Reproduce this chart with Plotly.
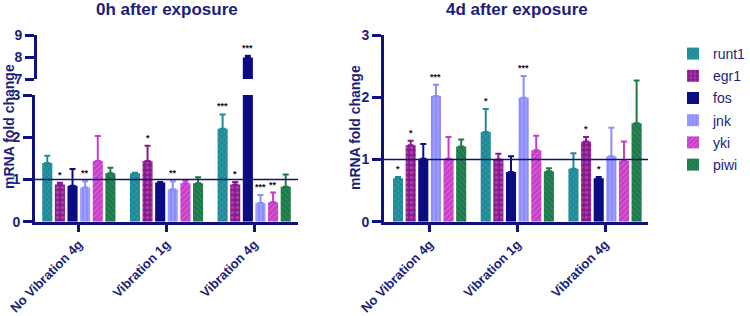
import plotly.graph_objects as go

groups = ["No Vibration 4g", "Vibration 1g", "Vibration 4g"]
genes = ["runt1", "egr1", "fos", "jnk", "yki", "piwi"]

# 0h after exposure (mean, error)
h0_runt1 = [1.39, 1.15, 2.20]
h0_runt1_err = [0.17, 0.01, 0.34]
h0_egr1 = [0.88, 1.44, 0.88]
h0_egr1_err = [0.04, 0.36, 0.06]
h0_fos = [0.85, 0.93, 7.98]
h0_fos_err = [0.40, 0.01, 0.08]
h0_jnk = [0.81, 0.77, 0.44]
h0_jnk_err = [0.15, 0.19, 0.19]
h0_yki = [1.44, 0.91, 0.46]
h0_yki_err = [0.59, 0.06, 0.23]
h0_piwi = [1.15, 0.91, 0.83]
h0_piwi_err = [0.13, 0.14, 0.29]
h0_sig_runt1 = ["", "", "***"]
h0_sig_egr1 = ["*", "*", "*"]
h0_sig_fos = ["", "", "***"]
h0_sig_jnk = ["**", "**", "***"]
h0_sig_yki = ["", "", "**"]
h0_sig_piwi = ["", "", ""]

# 4d after exposure (mean, error)
d4_runt1 = [0.70, 1.44, 0.85]
d4_runt1_err = [0.02, 0.37, 0.25]
d4_egr1 = [1.23, 1.00, 1.29]
d4_egr1_err = [0.07, 0.09, 0.07]
d4_fos = [1.01, 0.80, 0.70]
d4_fos_err = [0.24, 0.25, 0.02]
d4_jnk = [2.02, 1.99, 1.05]
d4_jnk_err = [0.18, 0.35, 0.46]
d4_yki = [1.01, 1.15, 0.98]
d4_yki_err = [0.35, 0.23, 0.31]
d4_piwi = [1.21, 0.81, 1.58]
d4_piwi_err = [0.11, 0.05, 0.69]
d4_sig_runt1 = ["*", "*", ""]
d4_sig_egr1 = ["*", "", "*"]
d4_sig_fos = ["", "", "*"]
d4_sig_jnk = ["***", "***", ""]
d4_sig_yki = ["", "", ""]
d4_sig_piwi = ["", "", ""]

NAVY = "#1b1f7a"
AXIS = "#10107e"
FONT = "Liberation Sans"

W, H = 750, 316


def px(x):
    return x / W


def py(y):
    return 1 - y / H


styles = {
    "runt1": dict(color="#1f8a97", shape="x", fg="#4fb3bd", size=4, solidity=0.3),
    "egr1": dict(color="#8a1a8c", shape=".", fg="#c060c4", size=5, solidity=0.4),
    "fos": dict(color="#0c0c82", shape="", fg="#0c0c82", size=4, solidity=0.2),
    "jnk": dict(color="#8c8cff", shape="|", fg="#b8b8ff", size=4, solidity=0.4),
    "yki": dict(color="#c83ac8", shape="/", fg="#e48ae4", size=4, solidity=0.35),
    "piwi": dict(color="#1c7848", shape="\\", fg="#3e9c6a", size=4, solidity=0.35),
}

h0 = {"runt1": (h0_runt1, h0_runt1_err, h0_sig_runt1), "egr1": (h0_egr1, h0_egr1_err, h0_sig_egr1),
      "fos": (h0_fos, h0_fos_err, h0_sig_fos), "jnk": (h0_jnk, h0_jnk_err, h0_sig_jnk),
      "yki": (h0_yki, h0_yki_err, h0_sig_yki), "piwi": (h0_piwi, h0_piwi_err, h0_sig_piwi)}
d4 = {"runt1": (d4_runt1, d4_runt1_err, d4_sig_runt1), "egr1": (d4_egr1, d4_egr1_err, d4_sig_egr1),
      "fos": (d4_fos, d4_fos_err, d4_sig_fos), "jnk": (d4_jnk, d4_jnk_err, d4_sig_jnk),
      "yki": (d4_yki, d4_yki_err, d4_sig_yki), "piwi": (d4_piwi, d4_piwi_err, d4_sig_piwi)}

fig = go.Figure()


def add_bars(vals, errs, g, xa, ya, legend):
    s = styles[g]
    fig.add_trace(go.Bar(
        x=groups, y=vals, name=g, xaxis=xa, yaxis=ya, showlegend=legend, legendgroup=g,
        marker=dict(color=s["color"], line=dict(width=0),
                    pattern=dict(shape=s["shape"], fgcolor=s["fg"], size=s["size"], solidity=s["solidity"])),
        error_y=dict(type="data", array=errs, symmetric=False, arrayminus=[0] * len(errs),
                     color=s["color"], thickness=2, width=3),
    ))


for g in genes:
    v, e, _ = h0[g]
    add_bars(v, e, g, "x", "y", True)
for g in genes:
    v, e, _ = h0[g]
    add_bars(v, e, g, "x", "y3", False)
for g in genes:
    v, e, _ = d4[g]
    add_bars(v, e, g, "x2", "y2", False)

# significance annotations
n = len(genes)
slot = 0.864 / n


def sig_annots(data, xa, ya_low, ya_high=None, brk=3):
    out = []
    for i, g in enumerate(genes):
        v, e, sig = data[g]
        for j, grp in enumerate(groups):
            if not sig[j]:
                continue
            top = v[j] + e[j]
            ya = ya_low
            if ya_high is not None and top > brk:
                ya = ya_high
            xpos = j + (i - (n - 1) / 2) * slot
            out.append(dict(x=xpos, y=top, xref=xa, yref=ya, text="<b>" + sig[j] + "</b>",
                            showarrow=False, yanchor="bottom", yshift=1,
                            font=dict(family=FONT, size=9, color="#111111")))
    return out


annots = sig_annots(h0, "x", "y", "y3") + sig_annots(d4, "x2", "y2")

annots += [
    dict(text="<b>0h after exposure</b>", x=px(167), y=py(10), xref="paper", yref="paper",
         showarrow=False, xanchor="center", yanchor="middle", font=dict(family=FONT, size=17, color=NAVY)),
    dict(text="<b>4d after exposure</b>", x=px(517), y=py(10), xref="paper", yref="paper",
         showarrow=False, xanchor="center", yanchor="middle", font=dict(family=FONT, size=17, color=NAVY)),
    dict(text="<b>mRNA fold change</b>", x=px(9), y=py(127), xref="paper", yref="paper",
         showarrow=False, textangle=-90, xanchor="center", yanchor="middle",
         font=dict(family=FONT, size=14, color=NAVY)),
    dict(text="<b>mRNA fold change</b>", x=px(355), y=py(128), xref="paper", yref="paper",
         showarrow=False, textangle=-90, xanchor="center", yanchor="middle",
         font=dict(family=FONT, size=14, color=NAVY)),
]

tickfont = dict(family=FONT, size=14, color=NAVY, weight="bold")
xtickfont = dict(family=FONT, size=13, color=NAVY, weight="bold")
common_y = dict(showline=True, linecolor=AXIS, linewidth=3, ticks="outside", tickcolor=AXIS,
                tickwidth=3, ticklen=9, showgrid=False, zeroline=False, tickfont=tickfont, dtick=1,
                automargin=False)
common_x = dict(showline=True, linecolor=AXIS, linewidth=3, ticks="outside", tickcolor=AXIS,
                tickwidth=3, ticklen=7, showgrid=False, zeroline=False, tickfont=xtickfont,
                tickangle=-45, type="category", automargin=False)

fig.update_layout(
    width=W, height=H, margin=dict(l=0, r=0, t=0, b=0, autoexpand=False),
    paper_bgcolor="white", plot_bgcolor="white",
    barmode="group", bargap=0.136, bargroupgap=0.2,
    xaxis=dict(domain=[px(35), px(298)], range=[-0.5, 2.5], anchor="y", **common_x),
    yaxis=dict(domain=[py(221.7), py(95)], range=[0, 3], anchor="x", **common_y),
    yaxis3=dict(domain=[py(79), py(35)], range=[7, 9], anchor="free", position=px(35), **common_y),
    xaxis2=dict(domain=[px(384), px(648)], range=[-0.52, 2.49], anchor="y2", **common_x),
    yaxis2=dict(domain=[py(221.7), py(35)], range=[0, 3], anchor="x2", **common_y),
    legend=dict(x=px(673), y=py(38), xanchor="left", yanchor="top",
                font=dict(family=FONT, size=14, color=NAVY), bgcolor="rgba(0,0,0,0)",
                tracegroupgap=1),
    annotations=annots,
    shapes=[
        dict(type="line", xref="x domain", yref="y", x0=0, x1=1, y0=1, y1=1,
             line=dict(color=AXIS, width=1.5), layer="above"),
        dict(type="line", xref="x2 domain", yref="y2", x0=0, x1=1, y0=1, y1=1,
             line=dict(color=AXIS, width=1.5), layer="above"),
    ],
)

fig.write_html("out.html", config={"displayModeBar": False},
               post_script="document.body.style.margin='0';")
